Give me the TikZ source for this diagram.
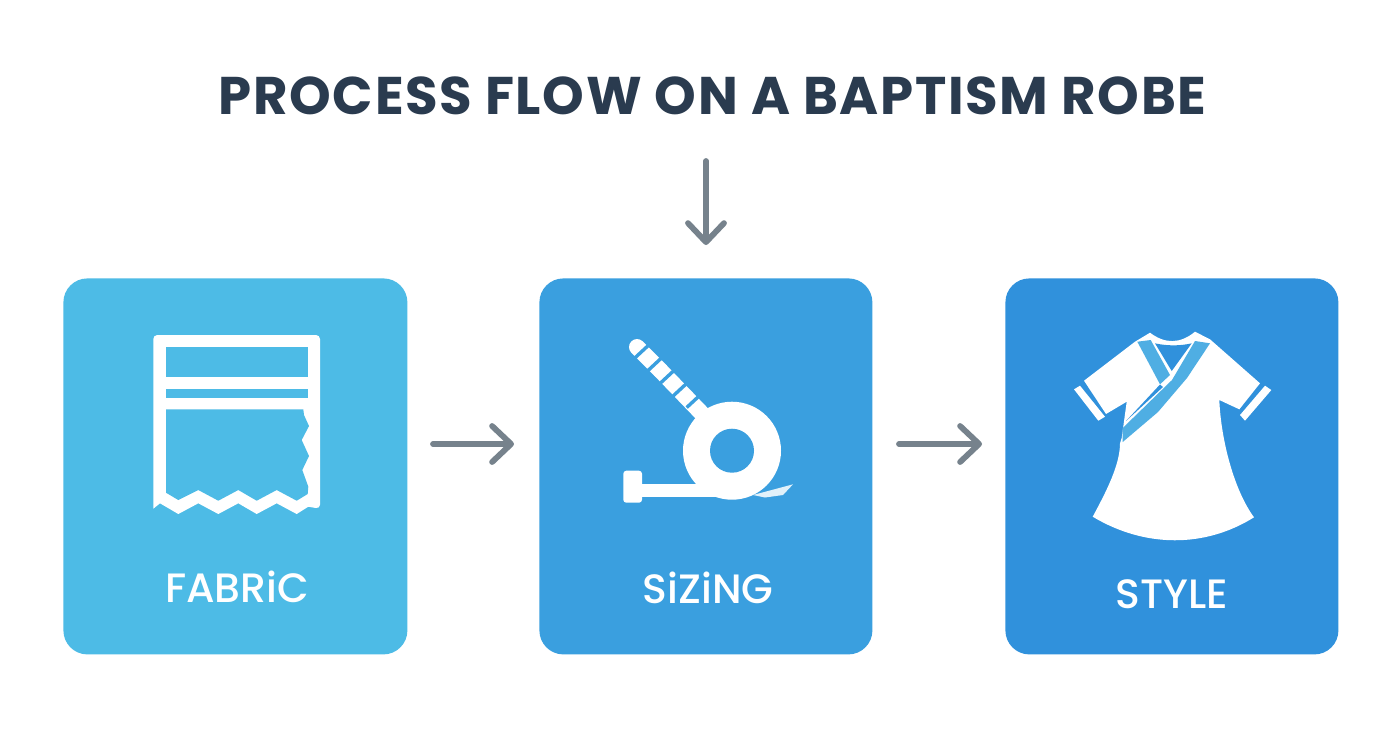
\documentclass[tikz,border=0pt]{standalone}
\usepackage{fontspec}
\usetikzlibrary{arrows.meta,calc}
\setmainfont{Poppins}[LetterSpace=3.2]
\newfontfamily\labelfont{Poppins Medium}
\definecolor{inka}{HTML}{2A3B4F}
\definecolor{arrowgray}{HTML}{76828C}
\definecolor{cardA}{HTML}{4DBBE6}
\definecolor{cardB}{HTML}{3A9FDF}
\definecolor{cardC}{HTML}{3091DC}
\definecolor{sash}{HTML}{4FAEE3}
\tikzset{
  x=0.5pt,y=-0.5pt,
  card/.style={rounded corners=12pt,inner sep=0pt,minimum height=188pt,anchor=north west,fill=#1},
  label/.style={text=white,font=\labelfont\fontsize{20.5}{24}\selectfont,inner sep=0pt},
  flow/.style={draw=arrowgray,line width=2.9pt,line cap=round,-{Straight Barb[length=9.5pt,width=18pt,round,line width=2.9pt]}},
  ico/.style={fill=white,draw=none},
}
\begin{document}
\begin{tikzpicture}
\useasboundingbox (0,0) rectangle (1392,752);
\fill[white] (0,0) rectangle (1392,752);
\node[text=inka,font=\fontsize{26.5}{30}\bfseries\selectfont,inner sep=0pt] (title) at (712.5,96) {PROCESS FLOW ON A BAPTISM ROBE};
\node[card=cardA,minimum width=172pt] (fabric) at (63,278) {};
\node[card=cardB,minimum width=166.5pt] (sizing) at (539,278) {};
\node[card=cardC,minimum width=166.5pt] (style) at (1005,278) {};
\node[label] (lfabric) at (237,587) {FABRiC};
\node[label] (lsizing) at (708,588) {SiZiNG};
\node[label] (lstyle) at (1172,594) {STYLE};
\coordinate (a1s) at (433,444);
\coordinate (a1e) at (514,444);
\coordinate (a2s) at (899,444);
\coordinate (a2e) at (982,444);
\coordinate (a3s) at (706,161);
\coordinate (a3e) at (706,245);
\draw[flow] (a1s) -- (a1e);
\draw[flow] (a2s) -- (a2e);
\draw[flow] (a3s) -- (a3e);
% fabric icon
\fill[ico] [rounded corners=2pt] (153.3,508.7) -- (153.3,335) -- (320,335) -- (320,508.7) [sharp corners] -- (308.3,506.7) -- (296.7,514) -- (276.7,503.3) -- (256.7,514) -- (238.3,503.3) -- (218.3,514) -- (198.3,503.3) -- (178.3,514) -- (160,503.3) -- cycle;
\fill[cardA] (166,347) rectangle (307.7,376.7);
\fill[cardA] (166,389) rectangle (307.7,397.7);
\fill[cardA] (166,409.3) -- (303.3,409.3) -- (304,415) -- (309,426) -- (301.7,440) -- (309,456) -- (302.3,470) -- (308.3,486.7) -- (307.7,494) -- (296.7,500.7) -- (276.7,490) -- (256.7,500.7) -- (238.3,490) -- (218.3,500.7) -- (198.3,490) -- (178.3,500) -- (166,492.7) -- cycle;
% tape
\fill[ico,rounded corners=1.5pt] (623.3,470.7) rectangle (642,502.7);
\fill[ico] (640,484) rectangle (720,496.7);
\fill[white!85!cardB] (753,495) -- (793,484.3) -- (783,495) -- (765,497.5) -- cycle;
\draw[white,line width=8pt,line cap=round] (637,347) -- (660,370);
\draw[white,line width=8pt] (660,370) -- (712,424);
\foreach \cx/\cy in {642/351.3,655/364,667.3/376.7,680.3/389.3,693.7/401}
  \draw[cardB,line width=1.7pt] (\cx-7,\cy+6.5) -- (\cx+7,\cy-6.5);
\fill[ico] (732,450.7) circle[radius=49];
\fill[cardB] (732,450.7) circle[radius=22];
% robe
\fill[ico] (1150,332.7) .. controls (1165,344) and (1180,344) .. (1195,331.7) -- (1210,339.3) -- (1260,383.3) -- (1239.3,409.3) -- (1219.3,400) .. controls (1221,440) and (1234,490) .. (1254,517.3) .. controls (1205,548) and (1145,548) .. (1092.7,516.7) .. controls (1106,492) and (1120,465) .. (1120,443.3) -- (1121.7,438) -- (1126.7,401.7) -- (1106,414) -- (1084,380.7) -- (1135,341.7) -- cycle;
\fill[ico] (1074,389.3) -- (1080,385.7) -- (1105,416.7) -- (1098.3,420.7) -- cycle;
\fill[ico] (1265,385.7) -- (1271.3,390) -- (1245,420.7) -- (1240,415) -- cycle;
\fill[cardC] (1155,343.3) .. controls (1167,346) and (1180,346) .. (1191.7,343.3) -- (1171.7,371) -- cycle;
\fill[sash] (1137.3,341.7) -- (1150.7,340) -- (1170,375) -- (1160,384.3) -- cycle;
\fill[sash] (1195,341) -- (1210,343.3) -- (1187,378) -- (1158,412) -- (1122.7,442) -- (1122.7,428) -- (1172,380) -- cycle;
\fill[cardC] (1126,421) -- (1160,384.5) -- (1163,387) -- cycle;
\end{tikzpicture}
\end{document}
